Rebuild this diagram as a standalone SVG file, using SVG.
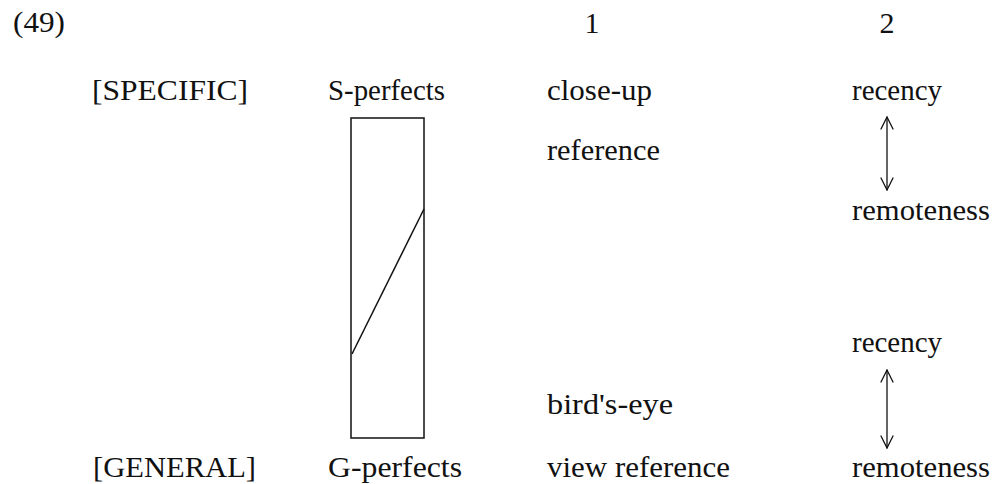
<svg xmlns="http://www.w3.org/2000/svg" width="994" height="484" viewBox="0 0 994 484">
<style>
text{font-family:"Liberation Serif","Times New Roman",serif;font-size:30px;fill:#111}
.ln{stroke:#111;stroke-width:1.5;fill:none}
.ah{stroke:#111;stroke-width:1.3;fill:none;stroke-linecap:round;stroke-linejoin:round}
</style>
<rect width="994" height="484" fill="#fff"/>
<g id="label-49"><text x="13" y="32" textLength="52" lengthAdjust="spacingAndGlyphs">(49)</text></g>
<g id="col-1"><text x="592" y="33" text-anchor="middle">1</text></g>
<g id="col-2"><text x="887" y="33" text-anchor="middle">2</text></g>
<g id="specific"><text x="92" y="100" textLength="156" lengthAdjust="spacingAndGlyphs">[SPECIFIC]</text></g>
<g id="general"><text x="93" y="477" textLength="163" lengthAdjust="spacingAndGlyphs">[GENERAL]</text></g>
<g id="s-perfects"><text x="328" y="100" textLength="117" lengthAdjust="spacingAndGlyphs">S-perfects</text></g>
<g id="g-perfects"><text x="328" y="477" textLength="134" lengthAdjust="spacingAndGlyphs">G-perfects</text></g>
<g id="perfects-box">
<rect class="ln" x="351" y="118" width="73" height="320"/>
<line class="ln" x1="424" y1="209" x2="352" y2="354" stroke-width="1.8"/>
</g>
<g id="close-up-reference">
<text x="547" y="100" textLength="105" lengthAdjust="spacingAndGlyphs">close-up</text>
<text x="547" y="160" textLength="113" lengthAdjust="spacingAndGlyphs">reference</text>
</g>
<g id="birds-eye-reference">
<text x="547" y="414" textLength="126" lengthAdjust="spacingAndGlyphs">bird's-eye</text>
<text x="547" y="477" textLength="183" lengthAdjust="spacingAndGlyphs">view reference</text>
</g>
<g id="recency-1"><text x="852" y="100" textLength="90" lengthAdjust="spacingAndGlyphs">recency</text></g>
<g id="remoteness-1"><text x="852" y="220" textLength="138" lengthAdjust="spacingAndGlyphs">remoteness</text></g>
<g id="recency-2"><text x="852" y="352" textLength="90" lengthAdjust="spacingAndGlyphs">recency</text></g>
<g id="remoteness-2"><text x="852" y="477" textLength="138" lengthAdjust="spacingAndGlyphs">remoteness</text></g>
<g id="connectors">
<line class="ah" x1="887" y1="117" x2="887" y2="190"/>
<path class="ah" d="M881,129 L887,117 L893,129 M881,178 L887,190 L893,178"/>
<line class="ah" x1="887" y1="370" x2="887" y2="448"/>
<path class="ah" d="M881,382 L887,370 L893,382 M881,436 L887,448 L893,436"/>
</g>
</svg>
